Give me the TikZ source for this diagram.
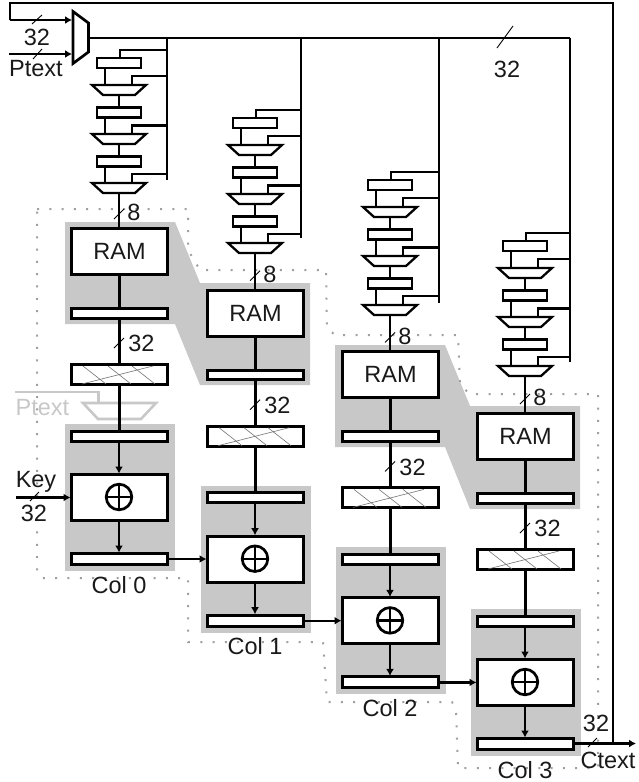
\documentclass[tikz,border=0pt]{standalone}
\usepackage{fontspec}
\setmainfont{Liberation Sans}
\usetikzlibrary{arrows.meta}
\definecolor{shade}{HTML}{C8C8C8}
\definecolor{dotc}{HTML}{A0A0A0}
\tikzset{
  every node/.style={font=\fontsize{23.5}{26}\selectfont,inner sep=0pt,outer sep=0pt},
  label text/.style={anchor=base,text=black!90},
  blockbox/.style={draw=black,fill=white,line width=3pt,minimum width=96pt},
  minibox/.style={draw=black,fill=white,line width=2.3pt,minimum width=44pt,minimum height=10pt},
  minimux/.style={draw=black,fill=white,line width=2.3pt,line join=miter},
  wire/.style={draw=black,line width=3pt},
  thinwire/.style={draw=black,line width=2.2pt},
  buswire/.style={draw=black,line width=2.7pt},
  arrowwire/.style={draw=black,line width=2.2pt,-{Latex[length=7pt,width=8pt]},shorten >=1pt},
  widthmark/.style={draw=black,line width=0.9pt},
  hatchline/.style={draw=black!55,line width=0.6pt},
  dotline/.style={draw=dotc,line width=2pt,dash pattern=on 2pt off 10.3pt},
  shadow part/.style={fill=shade,draw=none},
  ghost/.style={draw=shade,line width=2.6pt},
}
\begin{document}
\begin{tikzpicture}[x=1pt,y=-1pt]
\useasboundingbox (0,0) rectangle (638,782);
\fill[white] (0,0) rectangle (638,782);

% grey regions
\fill[shadow part] (65,222) -- (175,222) -- (200,283) -- (310,283) -- (310,385) -- (200,385) -- (175,324) -- (65,324) -- cycle;
\fill[shadow part] (335,345) -- (445,345) -- (470,406) -- (580,406) -- (580,509) -- (470,509) -- (445,447) -- (335,447) -- cycle;
\foreach \cx/\ry in {119/0,255/61.7,390/123.4,525/185}{
  \fill[shadow part] (\cx-54,424+\ry) rectangle (\cx+56,571+\ry);
}

% dotted outline
\draw[dotline] (37,209) -- (188,209) -- (188,250) -- (200,270) -- (326,270) -- (327,328) -- (335,335)
  -- (458,335) -- (460,385) -- (470,394) -- (598,394) -- (598,768) -- (458,768) -- (456,710) -- (452,702)
  -- (327,702) -- (323,642) -- (188,642) -- (188,578) -- (42,578) -- (37,572) -- cycle;

% ghost multiplexer
\coordinate (ghostin) at (15,392);
\coordinate (ghostbend) at (98.5,392);
\coordinate (ghostmux) at (98.5,403);
\draw[ghost] (ghostin) -- (ghostbend) -- (ghostmux);
\draw[ghost] (83,403) -- (156,403) -- (141,419) -- (98,419) -- cycle;
\node[anchor=base,text=shade] (ghostlabel) at (42.5,415) {Ptext};

% input multiplexer and buses
\coordinate (topleft) at (10,3);
\coordinate (topcorner) at (10,20);
\coordinate (topright) at (613,3);
\coordinate (loopfoot) at (613,743.5);
\coordinate (ptin) at (9,54);
\coordinate (buscorner) at (570,38);
\draw[buswire,line join=miter] (topcorner) -- (topleft) -- (topright) -- (loopfoot);
\coordinate (muxa) at (73,11.5);
\coordinate (muxb) at (88.5,23);
\coordinate (muxc) at (88.5,52);
\coordinate (muxd) at (73,63.5);
\coordinate (muxout) at (88.5,38);
\coordinate (muxinone) at (73,20);
\coordinate (muxintwo) at (73,54);
\draw[arrowwire] (topcorner) -- (muxinone);
\draw[arrowwire] (ptin) -- (muxintwo);
\draw[draw=black,fill=white,line width=2.7pt] (muxa) -- (muxb) -- (muxc) -- (muxd) -- cycle;
\draw[buswire] (muxout) -- (buscorner);

% columns
\foreach \i/\cx/\py/\ry/\bus/\busend in {0/119/0/0/167/180,1/255/60/61.7/301/238,2/390/122/123.4/439/303,3/525/183/185/570/362}{
  % tap bus
  \coordinate (bustop\i) at (\bus,38);
  \coordinate (busfoot\i) at (\bus,\busend);
  \draw[buswire] (bustop\i) -- (busfoot\i);

  % pipeline boxes and multiplexers
  \coordinate (tapa\i) at (\bus,50+\py);
  \coordinate (tapabend\i) at (\cx+1,50+\py);
  \node[minibox] (pipea\i) at (\cx,63+\py) {};
  \node[minibox] (pipeb\i) at (\cx,112.5+\py) {};
  \node[minibox] (pipec\i) at (\cx,161.5+\py) {};
  \draw[thinwire] (tapa\i) -- (tapabend\i) -- (\cx+1,57.5+\py);
  \foreach \j/\ty/\fy in {a/85/76,b/134/125.5,c/183/174}{
    \coordinate (tap\j m\i) at (\bus,\fy+\py);
    \coordinate (tap\j b\i) at (\cx+13,\fy+\py);
    \coordinate (mux\j in\i) at (\cx-14,\ty+\py);
    \coordinate (mux\j out\i) at (\cx,\ty+10+\py);
    \coordinate (tap\j e\i) at (\cx+13,\ty+\py);
    \draw[thinwire] (tap\j m\i) -- (tap\j b\i) -- (tap\j e\i);
    \draw[thinwire] (pipe\j\i.south -| mux\j in\i) -- (mux\j in\i);
    \draw[minimux] (\cx-27,\ty+\py) -- (\cx+27,\ty+\py) -- (\cx+16,\ty+10+\py) -- (\cx-16,\ty+10+\py) -- cycle;
  }
  \draw[thinwire] (muxaout\i) -- (pipeb\i);
  \draw[thinwire] (muxbout\i) -- (pipec\i);

  % main blocks
  \node[blockbox,minimum height=46pt] (ram\i) at (\cx+.5,251.5+\ry) {};
  \node[anchor=base,text=black!90] (ramtext\i) at (\cx+.5,259.5+\ry) {RAM};
  \node[blockbox,minimum height=9.5pt] (lata\i) at (\cx+.5,313.25+\ry) {};
  \node[blockbox,minimum height=20pt] (hatch\i) at (\cx+.5,374.5+\ry) {};
  \node[blockbox,minimum height=10pt] (latb\i) at (\cx+.5,436+\ry) {};
  \node[blockbox,minimum height=46pt] (xorbox\i) at (\cx+.5,497.5+\ry) {};
  \node[blockbox,minimum height=11pt] (latc\i) at (\cx+.5,559+\ry) {};

  \draw[thinwire] (muxcout\i) -- (ram\i.north -| muxcout\i);
  \draw[wire] (ram\i.south -| muxcout\i) -- (lata\i.north -| muxcout\i);
  \draw[wire] (lata\i.south -| muxcout\i) -- (hatch\i.north -| muxcout\i);
  \draw[wire] (hatch\i.south -| muxcout\i) -- (latb\i.north -| muxcout\i);
  \draw[arrowwire] (latb\i.south -| muxcout\i) -- (xorbox\i.north -| muxcout\i);
  \draw[arrowwire] (xorbox\i.south -| muxcout\i) -- (latc\i.north -| muxcout\i);

  % hatch
  \draw[hatchline] (\cx-36,366+\ry) -- (\cx-13,384+\ry);
  \draw[hatchline] (\cx-11,366+\ry) -- (\cx+12,384+\ry);
  \draw[hatchline] (\cx+13,366+\ry) -- (\cx+36,384+\ry);
  \draw[hatchline] (\cx-37,384+\ry) -- (\cx+34,366+\ry);

  % xor symbol
  \draw[draw=black,line width=2.7pt] (\cx,497+\ry) circle (12.8pt);
  \draw[draw=black,line width=2.2pt] (\cx-12.8,497+\ry) -- (\cx+12.8,497+\ry);
  \draw[draw=black,line width=2.2pt] (\cx,484.2+\ry) -- (\cx,509.8+\ry);

  % width marks and labels
  \draw[widthmark] (\cx-5,219+\ry) -- (\cx+5,209+\ry);
  \draw[widthmark] (\cx-5,348+\ry) -- (\cx+5,338+\ry);
  \node[label text] (eight\i) at (\cx+15,220.7+\ry) {8};
  \node[label text] (wide\i) at (\cx+22.5,351.7+\ry) {32};
  \node[label text] (col\i) at (\cx,593+\ry) {Col \i};
}

% links between columns
\draw[arrowwire] (latc0.east) -- (xorbox1.west |- latc0.east);
\draw[arrowwire] (latc1.east) -- (xorbox2.west |- latc1.east);
\draw[arrowwire] (latc2.east) -- (xorbox3.west |- latc2.east);

% key input
\coordinate (keyin) at (16,497.5);
\draw[arrowwire] (keyin) -- (xorbox0.west);
\node[label text] (keylabel) at (36,487) {Key};
\node[label text] (keywidth) at (34,521.7) {32};
\draw[widthmark] (30,501) -- (39,492);

% output
\coordinate (ctextend) at (636,743.5);
\draw[draw=black,line width=2.6pt,-{Latex[length=7pt,width=8pt]}] (latc3.east |- loopfoot) -- (ctextend);
\node[label text] (outwidth) at (596,731.7) {32};
\node[label text] (ctextlabel) at (608,768) {Ctext};
\draw[widthmark] (588,747) -- (597,738);

% top labels
\draw[widthmark] (32,24) -- (42,15);
\draw[widthmark] (33,59) -- (42,49);
\node[label text] (inwidth) at (37,45.7) {32};
\node[label text] (ptextlabel) at (36,76) {Ptext};
\draw[widthmark] (497,48) -- (513,26);
\node[label text] (buswidth) at (507,77) {32};
\end{tikzpicture}
\end{document}
